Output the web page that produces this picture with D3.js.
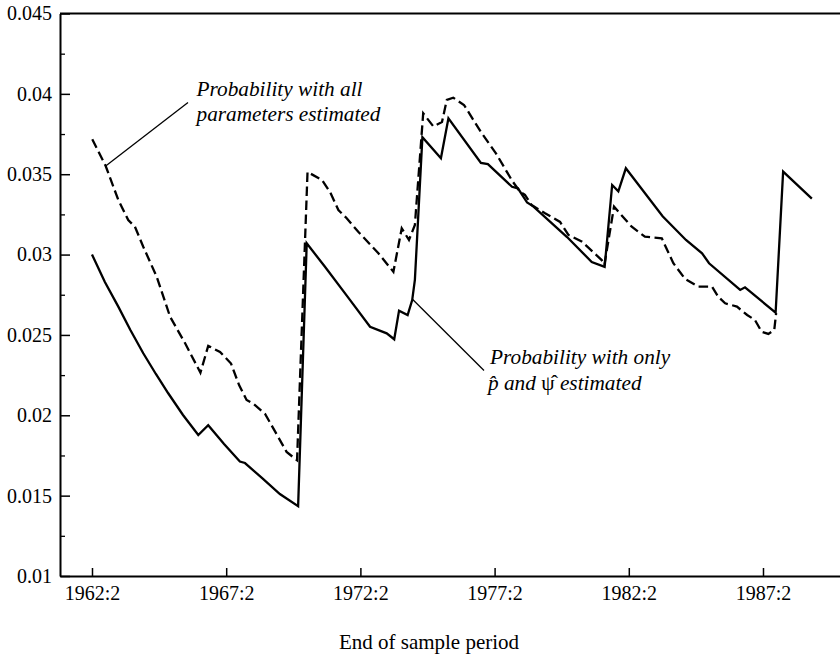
<!DOCTYPE html>
<html>
<head>
<meta charset="utf-8">
<script src="https://cdn.jsdelivr.net/npm/d3@7"></script>
<style>
	body { margin: 0; background: #fff; }
</style>
</head>
<body>
<div id="chartDiv"></div>
<script>

/*
Data. Dates are decimal years (1962:2 = 1962.25)
*/
var solidDates = [1962.25, 1962.73, 1963.23, 1963.68, 1964.16, 1964.63, 1965.09, 1965.64,
	1966.21, 1966.58, 1967.17, 1967.76, 1967.95, 1968.58, 1969.25, 1969.93,
	1970.25, 1970.93, 1971.77, 1972.61, 1973.23, 1973.51, 1973.69, 1974.01,
	1974.18, 1974.28, 1974.56, 1975.25, 1975.53, 1976.74, 1977.0, 1977.9,
	1978.12, 1978.46, 1978.69, 1979.95, 1980.87, 1981.35, 1981.63, 1981.86,
	1982.14, 1983.51, 1984.38, 1984.98, 1985.24, 1986.4, 1986.58, 1987.72,
	1988.0, 1989.07];
var solidValues = [0.0300, 0.02829, 0.02676, 0.02531, 0.02386, 0.02257, 0.02137, 0.02002,
	0.01877, 0.01938, 0.01821, 0.01712, 0.01703, 0.0161, 0.0151, 0.01434,
	0.0307, 0.02924, 0.02738, 0.02551, 0.0251, 0.02473, 0.02651, 0.02624,
	0.02717, 0.02842, 0.0373, 0.03599, 0.03848, 0.0357, 0.03563, 0.03422,
	0.03412, 0.03324, 0.033, 0.03109, 0.02954, 0.02923, 0.03433, 0.03394,
	0.03537, 0.03238, 0.03091, 0.03008, 0.02946, 0.0278, 0.02796, 0.02638,
	0.03516, 0.03348];

var dashedDates = [1962.26, 1962.76, 1963.23, 1963.6, 1963.85, 1964.16, 1964.66, 1965.16,
	1965.72, 1966.29, 1966.58, 1967.02, 1967.43, 1967.73, 1968.01, 1968.26,
	1968.7, 1969.18, 1969.5, 1969.89, 1970.28, 1970.82, 1971.12, 1971.43,
	1971.74, 1972.17, 1972.92, 1973.48, 1973.79, 1974.06, 1974.28, 1974.59,
	1974.97, 1975.29, 1975.47, 1975.71, 1976.11, 1976.74, 1977.3, 1977.92,
	1978.2, 1978.38, 1978.63, 1979.13, 1979.69, 1980.0, 1980.51, 1981.24,
	1981.34, 1981.7, 1982.36, 1982.85, 1983.48, 1983.91, 1984.35, 1984.84,
	1985.35, 1985.59, 1985.84, 1986.28, 1986.66, 1986.95, 1987.2, 1987.45,
	1987.67, 1987.74];
var dashedValues = [0.03717, 0.03551, 0.0334, 0.03215, 0.03173, 0.03049, 0.02862, 0.02613,
	0.02448, 0.02265, 0.02432, 0.02394, 0.02322, 0.02188, 0.02095, 0.02072,
	0.02008, 0.01867, 0.01772, 0.0172, 0.03514, 0.03464, 0.03389, 0.03277,
	0.03226, 0.03142, 0.03008, 0.02893, 0.03163, 0.03091, 0.03184, 0.03879,
	0.03797, 0.03825, 0.03962, 0.03976, 0.03931, 0.03763, 0.0363, 0.03455,
	0.03391, 0.03371, 0.03308, 0.03257, 0.03203, 0.03122, 0.0308, 0.02966,
	0.02935, 0.03298, 0.03173, 0.03111, 0.03101, 0.02946, 0.02848, 0.028,
	0.028, 0.02736, 0.02697, 0.02676, 0.02624, 0.02593, 0.0252, 0.02506,
	0.02531, 0.02636];

// Axis ticks
var xTickValues = [1962.25, 1967.25, 1972.25, 1977.25, 1982.25, 1987.25];
var xTickLabels = ["1962:2", "1967:2", "1972:2", "1977:2", "1982:2", "1987:2"];
var yTickValues = [0.01, 0.015, 0.02, 0.025, 0.03, 0.035, 0.04, 0.045];
var yTickLabels = ["0.01", "0.015", "0.02", "0.025", "0.03", "0.035", "0.04", "0.045"];
var yMinorTicks = [0.0125, 0.0175, 0.0225, 0.0275, 0.0325, 0.0375, 0.0425];

// Annotation anchors (date, value)
var noteAllAt = [1962.76, 0.03551];
var noteOnlyAt = [1974.2, 0.0272];

var fontName = "Liberation Serif";

/*
Sizes
*/
var width = 840, height = 654;
var margin = { top: 13.5, right: 0, bottom: 78, left: 60 };
var innerW = width - margin.left - margin.right,
	innerH = height - margin.top - margin.bottom;

var svg = d3.select("#chartDiv").append("svg")
	.attr("width", width)
	.attr("height", height)
	.append("g")
		.attr("transform", "translate(" + margin.left + "," + margin.top + ")");

/*
Scales
*/
var xScale = d3.scaleLinear()
	.domain([1961.058, 1990.119])
	.range([0, innerW]);

var yScale = d3.scaleLinear()
	.domain([0.01, 0.045])
	.range([innerH, 0]);

/*
Axes (ticks point inward)
*/
var xAxis = d3.axisBottom(xScale)
	.tickValues(xTickValues)
	.tickFormat(function(d, i) { return xTickLabels[i]; })
	.tickSizeInner(-8)
	.tickSizeOuter(0)
	.tickPadding(10);

var yAxis = d3.axisLeft(yScale)
	.tickValues(yTickValues)
	.tickFormat(function(d, i) { return yTickLabels[i]; })
	.tickSizeInner(-10)
	.tickSizeOuter(0)
	.tickPadding(8);

var yAxisMinor = d3.axisLeft(yScale)
	.tickValues(yMinorTicks)
	.tickFormat("")
	.tickSizeInner(-5)
	.tickSizeOuter(0);

function styleAxis(g) {
	g.attr("font-family", fontName).attr("font-size", 20);
	g.select(".domain").attr("stroke", "#000").attr("stroke-width", 2);
	g.selectAll(".tick line").attr("stroke", "#000").attr("stroke-width", 1.5);
	g.selectAll(".tick text")
		.attr("fill", "#000")
		.attr("font-family", fontName)
		.style("font-family", fontName)
		.attr("font-size", 20);
}

svg.append("g")
	.attr("class", "x axis")
	.attr("transform", "translate(0," + innerH + ")")
	.call(xAxis)
	.call(styleAxis);

svg.append("g")
	.attr("class", "y axis minor")
	.call(yAxisMinor)
	.call(function(g) {
		g.select(".domain").remove();
		g.selectAll(".tick line").attr("stroke", "#000").attr("stroke-width", 1.3);
	});

svg.append("g")
	.attr("class", "y axis")
	.call(yAxis)
	.call(styleAxis);

// Top frame line
svg.append("line")
	.attr("x1", 0)
	.attr("x2", innerW)
	.attr("y1", yScale(0.045))
	.attr("y2", yScale(0.045))
	.attr("stroke", "#000")
	.attr("stroke-width", 2);

/*
Lines
*/
var line = d3.line()
	.x(function(d) { return xScale(d[0]); })
	.y(function(d) { return yScale(d[1]); });

var solidData = d3.zip(solidDates, solidValues);
var dashedData = d3.zip(dashedDates, dashedValues);

svg.append("path")
	.datum(dashedData)
	.attr("fill", "none")
	.attr("stroke", "#000")
	.attr("stroke-width", 2.3)
	.attr("stroke-dasharray", "9.5,4.5")
	.attr("d", line);

svg.append("path")
	.datum(solidData)
	.attr("fill", "none")
	.attr("stroke", "#000")
	.attr("stroke-width", 2.3)
	.attr("d", line);

/*
Annotations
*/
svg.append("line")
	.attr("x1", xScale(noteAllAt[0]))
	.attr("y1", yScale(noteAllAt[1]))
	.attr("x2", 128)
	.attr("y2", 89)
	.attr("stroke", "#000")
	.attr("stroke-width", 1.3);

var noteAll = svg.append("text")
	.attr("font-family", fontName)
	.style("font-family", fontName)
	.attr("font-style", "italic")
	.attr("font-size", 21.3)
	.attr("x", 136.5)
	.attr("y", 82.5);
noteAll.append("tspan").attr("x", 136.5).text("Probability with all");
noteAll.append("tspan").attr("x", 136.5).attr("dy", 24.7).text("parameters estimated");

svg.append("line")
	.attr("x1", xScale(noteOnlyAt[0]))
	.attr("y1", yScale(noteOnlyAt[1]))
	.attr("x2", 424)
	.attr("y2", 357)
	.attr("stroke", "#000")
	.attr("stroke-width", 1.3);

var noteOnly = svg.append("text")
	.attr("font-family", fontName)
	.style("font-family", fontName)
	.attr("font-style", "italic")
	.attr("font-size", 21.3)
	.attr("x", 430)
	.attr("y", 350);
noteOnly.append("tspan").attr("x", 430).text("Probability with only");
var l2 = noteOnly.append("tspan").attr("x", 428).attr("dy", 26.6);
l2.append("tspan").text("p\u0302 and ");
l2.append("tspan").attr("font-style", "normal").text("\u03C8\u0302");
l2.append("tspan").text(" estimated");

/*
Axis title
*/
svg.append("text")
	.attr("font-family", fontName)
	.style("font-family", fontName)
	.attr("x", 369)
	.attr("y", 635)
	.attr("text-anchor", "middle")
	.attr("font-size", 21)
	.text("End of sample period");

</script>
</body>
</html>
